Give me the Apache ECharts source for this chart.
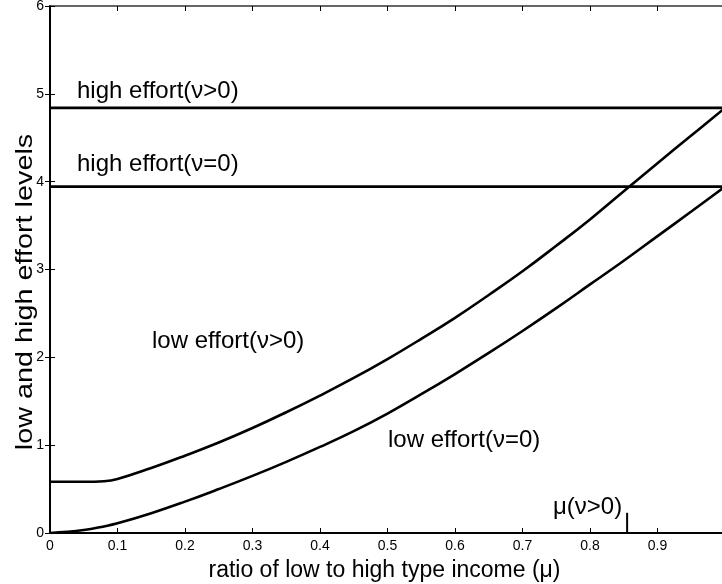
<!DOCTYPE html>
<html>
<head>
<meta charset="utf-8">
<script src="https://cdn.jsdelivr.net/npm/echarts@6/dist/echarts.min.js"></script>
<style>html,body{margin:0;padding:0;background:#fff}#c{width:722px;height:584px}</style>
</head>
<body>
<div id="c"></div>
<script>
// ---- data ----
var mu = [0, 0.05, 0.08, 0.1, 0.15, 0.2, 0.25, 0.3, 0.35, 0.4, 0.45, 0.5, 0.55, 0.6, 0.65, 0.7, 0.75, 0.8, 0.85, 0.9, 0.95, 1.0];
var lowEffortPos = [0.584, 0.584, 0.59, 0.615, 0.74, 0.88, 1.03, 1.195, 1.375, 1.565, 1.765, 1.98, 2.21, 2.45, 2.71, 2.98, 3.27, 3.57, 3.89, 4.21, 4.525, 4.84];
var lowEffortZero = [0, 0.034, 0.075, 0.11, 0.225, 0.357, 0.50, 0.65, 0.81, 0.98, 1.16, 1.36, 1.58, 1.81, 2.05, 2.30, 2.56, 2.83, 3.10, 3.38, 3.66, 3.944];
var highEffortPos = 4.84;
var highEffortZero = 3.944;
var muMarkerX = 0.855;
var muMarkerTop = 0.23;
var xTicks = [0, 0.1, 0.2, 0.3, 0.4, 0.5, 0.6, 0.7, 0.8, 0.9];
var yTicks = [0, 1, 2, 3, 4, 5, 6];
var xMax = 1.0;
var labels = {
  highPos: 'high effort(\u03bd>0)',
  highZero: 'high effort(\u03bd=0)',
  lowPos: 'low effort(\u03bd>0)',
  lowZero: 'low effort(\u03bd=0)',
  muMark: '\u03bc(\u03bd>0)',
  xTitle: 'ratio of low to high type income (\u03bc)',
  yTitle: 'low and high effort levels'
};

var FONT = '"Liberation Sans", Arial, Helvetica, sans-serif';
function pairs(xs, ys){ return xs.map(function(x,i){ return [x, ys[i]]; }); }
function fmtX(v){ var r = Math.round(v*10)/10; return (Math.abs(v-r)<1e-6 && xTicks.indexOf(r)>=0) ? String(r) : ''; }

var chart = echarts.init(document.getElementById('c'), null, {renderer:'canvas'});
var lineStyle = {color:'#000', width:2.6};
var option = {
  animation:false,
  backgroundColor:'#fff',
  grid:{left:50, right:-3, top:6, bottom:51, containLabel:false, outerBoundsMode:'none'},
  xAxis:[{
    type:'value', min:0, max:xMax, interval:0.1, position:'bottom',
    name:labels.xTitle, nameLocation:'middle', nameGap:26,
    nameTextStyle:{fontFamily:FONT, fontSize:23, color:'#000', padding:[0,0,0,-6]},
    axisLine:{show:true, onZero:false, lineStyle:{color:'#000', width:2}},
    axisTick:{inside:true, length:5, lineStyle:{color:'#000', width:1}},
    axisLabel:{fontFamily:FONT, fontSize:14, color:'#000', margin:6, showMaxLabel:false, formatter:fmtX},
    splitLine:{show:false}
  },{
    type:'value', min:0, max:xMax, interval:0.1, position:'top',
    axisLine:{show:true, onZero:false, lineStyle:{color:'#333', width:1.5}},
    axisTick:{inside:true, length:5, lineStyle:{color:'#000', width:1}},
    axisLabel:{show:false}, splitLine:{show:false}
  }],
  yAxis:[{
    type:'value', min:0, max:6, interval:1, position:'left',
    axisLine:{show:true, onZero:false, lineStyle:{color:'#000', width:2}},
    axisTick:{inside:true, length:5, lineStyle:{color:'#000', width:1}},
    axisLabel:{fontFamily:FONT, fontSize:14, color:'#000', margin:6},
    splitLine:{show:false}
  },{
    type:'value', min:0, max:6, interval:1, position:'right',
    axisLine:{show:true, lineStyle:{color:'#000', width:1.5}},
    axisTick:{inside:true, length:5, lineStyle:{color:'#000', width:1}},
    axisLabel:{show:false}, splitLine:{show:false}
  }],
  graphic:[
    {type:'text', x:25, y:292, rotation:Math.PI/2, scaleX:1.2,
      style:{text:labels.yTitle, font:'24px '+FONT, fill:'#000', align:'center', verticalAlign:'middle'}},
    {type:'text', left:77, top:79, style:{text:labels.highPos, font:'24px '+FONT, fill:'#000'}},
    {type:'text', left:77, top:152, style:{text:labels.highZero, font:'24px '+FONT, fill:'#000'}},
    {type:'text', left:152, top:329, style:{text:labels.lowPos, font:'24px '+FONT, fill:'#000'}},
    {type:'text', left:388, top:428, style:{text:labels.lowZero, font:'24px '+FONT, fill:'#000'}},
    {type:'text', left:553, top:495, style:{text:labels.muMark, font:'24px '+FONT, fill:'#000'}}
  ],
  series:[
    {type:'line', data:[[0, highEffortPos],[xMax, highEffortPos]], symbol:'none', lineStyle:lineStyle, silent:true},
    {type:'line', data:[[0, highEffortZero],[xMax, highEffortZero]], symbol:'none', lineStyle:lineStyle, silent:true},
    {type:'line', data:pairs(mu, lowEffortPos), symbol:'none', smooth:0.45, lineStyle:lineStyle, silent:true},
    {type:'line', data:pairs(mu, lowEffortZero), symbol:'none', smooth:0.45, lineStyle:lineStyle, silent:true},
    {type:'line', data:[[muMarkerX, 0],[muMarkerX, muMarkerTop]], symbol:'none', lineStyle:{color:'#000', width:2}, silent:true}
  ]
};
chart.setOption(option);
</script>
</body>
</html>
